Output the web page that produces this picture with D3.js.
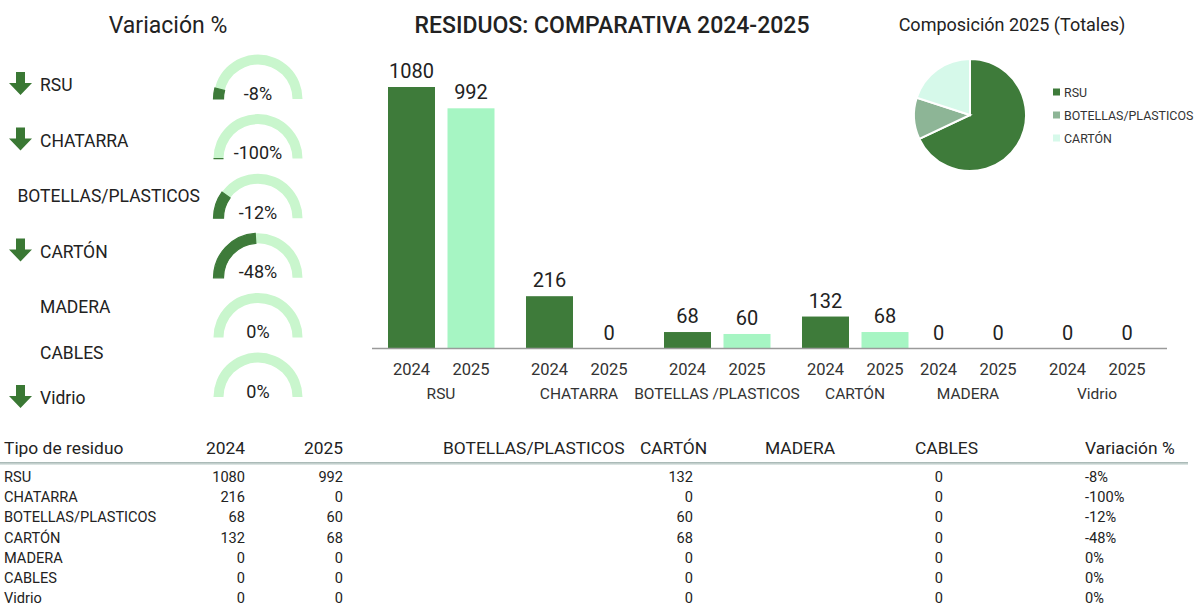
<!DOCTYPE html>
<html><head><meta charset="utf-8">
<script src="https://cdn.jsdelivr.net/npm/d3@7"></script>
<style>
html,body{margin:0;padding:0;background:#fff;}
svg{display:block;font-family:Roboto, "Noto Sans", sans-serif;}
</style></head>
<body>
<svg id="c" width="1203" height="607"></svg>
<script>
// ---------- DATA ----------
const tipos = ["RSU","CHATARRA","BOTELLAS/PLASTICOS","CARTÓN","MADERA","CABLES","Vidrio"];
const arrowFlags = [true, true, false, true, false, false, true];
const gaugeCats = ["RSU","CHATARRA","BOTELLAS/PLASTICOS","CARTÓN","MADERA","Vidrio"];
const gaugeLabels = ["-8%","-100%","-12%","-48%","0%","0%"];
const gaugeFill = [8, 0, 20, 48, 0, 0];          // filled share of the gauge (%)
const gaugeMarked = [true, true, true, true, false, false];

const barCats = ["RSU","CHATARRA","BOTELLAS /PLASTICOS","CARTÓN","MADERA","Vidrio"];
const years = ["2024","2025"];
const values2024 = [1080, 216, 68, 132, 0, 0];
const values2025 = [992, 0, 60, 68, 0, 0];

const pieCats = ["RSU","BOTELLAS/PLASTICOS","CARTÓN"];
const pieShares = [68, 12, 20];

const tableHeaders = ["Tipo de residuo","2024","2025","BOTELLAS/PLASTICOS","CARTÓN","MADERA","CABLES","Variación %"];
const col2024 = [1080, 216, 68, 132, 0, 0, 0];
const col2025 = [992, 0, 60, 68, 0, 0, 0];
const colCarton = [132, 0, 60, 68, 0, 0, 0];
const colCables = [0, 0, 0, 0, 0, 0, 0];
const colVariacion = ["-8%","-100%","-12%","-48%","0%","0%","0%"];

// ---------- STYLE ----------
const DARK = "#3e7b3a", LIGHT = "#a6f5c3", GAUGE_BG = "#c9f6cd", TXT = "#222";
const svg = d3.select("#c");

// ---------- TITLES ----------
svg.append("text").attr("x",168).attr("y",33).attr("text-anchor","middle")
  .attr("font-size",23).attr("fill",TXT).text("Variación %");
svg.append("text").attr("x",612).attr("y",33).attr("text-anchor","middle")
  .attr("font-size",23).attr("font-weight",500).attr("fill",TXT).text("RESIDUOS: COMPARATIVA 2024-2025");
svg.append("text").attr("x",1012).attr("y",31).attr("text-anchor","middle")
  .attr("font-size",18).attr("fill",TXT).text("Composición 2025 (Totales)");

// ---------- LEFT: labels + arrows ----------
const labelY = d3.scaleLinear().domain([0,4,6]).range([85,307,398]);
const lg = svg.append("g");
tipos.forEach((t,i)=>{
  const cy = labelY(i);
  const tx = lg.append("text").attr("x",40).attr("y",cy+6.3).attr("font-size",17.5).attr("fill",TXT).text(t);
  const w = tx.node().getComputedTextLength();
  if (40 + w > 205) tx.attr("x", 200).attr("text-anchor","end");
  if (arrowFlags[i]) {
    const p = d3.path();
    p.moveTo(16,-13); p.lineTo(25,-13); p.lineTo(25,-2); p.lineTo(32,-2);
    p.lineTo(20.5,10); p.lineTo(9,-2); p.lineTo(16,-2); p.closePath();
    lg.append("path").attr("d",p.toString()).attr("transform",`translate(0,${cy})`).attr("fill","#3a7834");
  }
});

// ---------- GAUGES ----------
const gaugeY = d3.scaleLinear().domain([0,5]).range([99,397]);
const gx = 258, R = 44.5, r = 34.5;
const ang = d3.scaleLinear().domain([0,100]).range([-Math.PI/2, Math.PI/2]);
const arcG = d3.arc().innerRadius(r).outerRadius(R);
const gg = svg.append("g");
gaugeCats.forEach((c,i)=>{
  const g = gg.append("g").attr("transform",`translate(${gx},${gaugeY(i)})`);
  g.append("path").attr("d",arcG({startAngle:ang(0),endAngle:ang(100)})).attr("fill",GAUGE_BG);
  if (gaugeMarked[i]) {
    g.append("path").attr("d",arcG({startAngle:ang(0),endAngle:ang(gaugeFill[i])}))
      .attr("fill",DARK).attr("stroke",DARK).attr("stroke-width",1.2);
  }
  g.append("text").attr("x",0).attr("y",0.5).attr("text-anchor","middle")
    .attr("font-size",18).attr("fill",TXT).text(gaugeLabels[i]);
});

// ---------- BAR CHART ----------
const groupX = d3.scaleLinear().domain([0,3,4,5]).range([441,855,968,1097]);
const yearOff = d3.scaleLinear().domain([0,1]).range([-29.5,30]);
const y = d3.scaleLinear().domain([0,1080]).range([348.5,87]);
const bw = 47;
const barData = [];
barCats.forEach((c,i)=>{
  barData.push({c,i,yi:0,v:values2024[i]});
  barData.push({c,i,yi:1,v:values2025[i]});
});
const bg = svg.append("g");
bg.selectAll("rect").data(barData).enter().append("rect")
  .attr("x",d=>groupX(d.i)+yearOff(d.yi)-bw/2).attr("width",bw)
  .attr("y",d=>y(d.v)).attr("height",d=>y(0)-y(d.v))
  .attr("fill",d=>d.yi===0?DARK:LIGHT);
bg.selectAll("text.val").data(barData).enter().append("text").attr("class","val")
  .attr("x",d=>groupX(d.i)+yearOff(d.yi)).attr("y",d=>y(d.v)-9)
  .attr("text-anchor","middle").attr("font-size",20).attr("fill",TXT).text(d=>d.v);
bg.append("line").attr("x1",372).attr("x2",1167).attr("y1",y(0)).attr("y2",y(0))
  .attr("stroke","#9a9a9a").attr("stroke-width",1.5);
bg.selectAll("text.yr").data(barData).enter().append("text").attr("class","yr")
  .attr("x",d=>groupX(d.i)+yearOff(d.yi)).attr("y",375)
  .attr("text-anchor","middle").attr("font-size",16.5).attr("fill","#333").text(d=>years[d.yi]);
bg.selectAll("text.cat").data(barCats).enter().append("text").attr("class","cat")
  .attr("x",(d,i)=>groupX(i)).attr("y",399)
  .attr("text-anchor","middle").attr("font-size",15.5).attr("fill","#333").text(d=>d);

// ---------- PIE ----------
const pieColors = d3.scaleOrdinal().domain(pieCats).range([DARK,"#8db596","#d6f9ea"]);
const pie = d3.pie().sort(null)(pieShares);
const arcP = d3.arc().innerRadius(0).outerRadius(56);
const pg = svg.append("g").attr("transform","translate(970,115)");
pg.selectAll("path").data(pie).enter().append("path")
  .attr("d",arcP).attr("fill",(d,i)=>pieColors(pieCats[i])).attr("stroke","#fff").attr("stroke-width",2);
const leg = svg.append("g");
pieCats.forEach((c,i)=>{
  const ly = 92 + i*23;
  leg.append("rect").attr("x",1053).attr("y",ly-3.5).attr("width",7).attr("height",7).attr("fill",pieColors(c));
  leg.append("text").attr("x",1064).attr("y",ly+4.5).attr("font-size",12.4).attr("fill","#333").text(c);
});

// ---------- TABLE ----------
const tg = svg.append("g").attr("fill",TXT);
const headerX = [4,245,343,443,640,765,915,1085];
const headerAnchor = ["start","end","end","start","start","start","start","start"];
tableHeaders.forEach((h,i)=>{
  tg.append("text").attr("x",headerX[i]).attr("y",454).attr("text-anchor",headerAnchor[i])
    .attr("font-size",17.4).text(h);
});
const sepGrad = svg.append("defs").append("linearGradient").attr("id","sep").attr("x1",0).attr("x2",0).attr("y1",0).attr("y2",1);
sepGrad.append("stop").attr("offset","0%").attr("stop-color","#9fb0ad");
sepGrad.append("stop").attr("offset","100%").attr("stop-color","#e6eeec");
svg.append("rect").attr("x",0).attr("y",462).attr("width",1188).attr("height",3).attr("fill","url(#sep)");
const rowY = d3.scaleLinear().domain([0,6]).range([482,603]);
const cols = [
  {vals:tipos, x:4, a:"start"},
  {vals:col2024, x:245, a:"end"},
  {vals:col2025, x:343, a:"end"},
  {vals:colCarton, x:693, a:"end"},
  {vals:colCables, x:943, a:"end"},
  {vals:colVariacion, x:1085, a:"start"}
];
cols.forEach(col=>{
  col.vals.forEach((v,i)=>{
    tg.append("text").attr("x",col.x).attr("y",rowY(i)).attr("text-anchor",col.a)
      .attr("font-size",14.6).text(v);
  });
});
</script>
</body></html>
